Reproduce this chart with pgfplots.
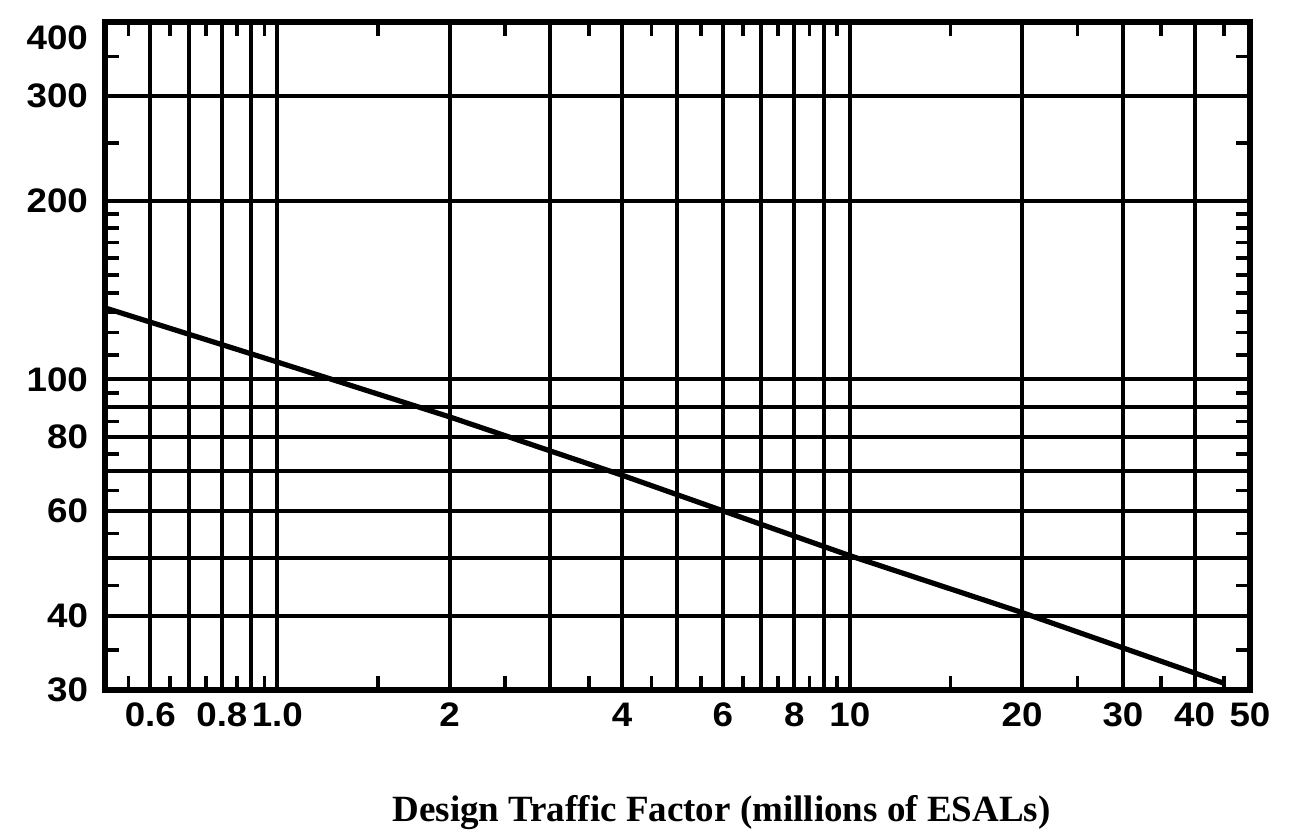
\documentclass[border=0pt]{standalone}
\usepackage{fontspec}
\usepackage{pgfplots}
\pgfplotsset{compat=1.18}
\newfontfamily\tickfam[FakeStretch=1.08]{Liberation Sans}
\newfontfamily\titlefam{Liberation Serif}
\begin{document}
\begin{tikzpicture}
\begin{loglogaxis}[
  at={(0,0)}, anchor=south west,
  width=572.5pt, height=334pt, scale only axis,
  xmin=0.5, xmax=50, ymin=30, ymax=400,
  xtick={0.5,0.6,0.7,0.8,0.9,1,2,3,4,5,6,7,8,9,10,20,30,40,50},
  xticklabels={,0.6,,0.8,,1.0,2,,4,,6,,8,,10,20,30,40,50},
  ytick={30,40,50,60,70,80,90,100,200,300,400},
  yticklabels={30,40,,60,,80,,100,200,300,\raisebox{-8pt}[12pt][0pt]{400}},
  minor xtick={0.55,0.65,0.75,0.85,0.95,1.5,2.5,3.5,4.5,5.5,6.5,7.5,8.5,9.5,15,25,35,45},
  minor ytick={35,45,55,65,75,85,95,110,120,130,140,150,160,170,180,190,250,350},
  major tick length=0pt,
  minor tick length=7pt,
  every minor tick/.style={line width=1.8pt, black},
  grid=major,
  major grid style={line width=2pt, black},
  axis line style={line width=2.8pt, black},
  tick label style={font=\tickfam\bfseries\fontsize{17}{17}\selectfont},
  /pgf/number format/assume math mode=true,
  yticklabel style={xshift=-5pt},
  xticklabel style={yshift=-3pt},
  xlabel={Design Traffic Factor (millions of ESALs)},
  xlabel style={font=\titlefam\bfseries\fontsize{18.5}{18.5}\selectfont,
    at={(axis description cs:0.5,0)}, anchor=base, yshift=-66pt, xshift=22pt},
]
\addplot[line width=2.6pt, black] coordinates {
  (0.5,132) (1,107) (2,86.5) (4,69) (10,50.5) (20,40.5) (45,30.8)
};
\end{loglogaxis}
\pgfresetboundingbox
\path[use as bounding box] (-52.5pt,-74pt) rectangle (595pt,345pt);
\end{tikzpicture}
\end{document}
